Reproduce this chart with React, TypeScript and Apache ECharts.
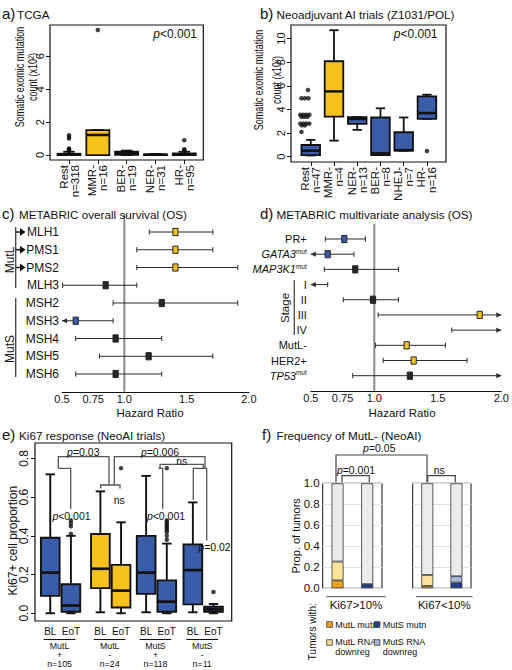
import React, { useEffect, useRef } from 'react';
import * as echarts from 'echarts';

const FONT = '"Liberation Sans", Arial, Helvetica, sans-serif';
const YEL = '#F6C21D';
const BLU = '#3A5CA9';
const BLK = '#262626';
const INK = '#111111';

// ---------- a) TCGA ----------
const aCategories = ['Rest', 'MMR-', 'BER-', 'NER-', 'HR-'];
const aCounts = [318, 16, 19, 31, 95];
const aLow = [0, 0, 0, 0, 0];
const aQ1 = [0, 0, 0.02, 0, 0];
const aMedian = [0.03, 1.22, 0.12, 0.02, 0.05];
const aQ3 = [0.08, 1.52, 0.2, 0.04, 0.1];
const aHigh = [0.2, 1.52, 0.27, 0.07, 0.2];
const aFill = [BLU, YEL, BLU, BLU, BLU];
const aOutliers = [[1, 1.2], [1, 1.1], [1, 1.0], [1, 0.4], [1, 0.35], [1, 0.3], [1, 0.25], [2, 7.6], [5, 0.9], [5, 0.35], [5, 0.3], [5, 0.25]];
const aYTicks = [0, 2, 4, 6];

// ---------- b) Neoadjuvant AI trials ----------
const bCategories = ['Rest', 'MMR-', 'NER-', 'BER-', 'NHEJ-', 'HR-'];
const bCounts = [47, 4, 13, 8, 7, 16];
const bLow = [0.1, 1.36, 2.27, 0.14, 0.51, 3.2];
const bQ1 = [0.14, 3.4, 2.78, 0.14, 0.51, 3.2];
const bMedian = [0.51, 5.53, 3.2, 0.28, 0.55, 3.69];
const bQ3 = [0.99, 8.08, 3.35, 3.32, 2.07, 5.1];
const bHigh = [1.42, 10.71, 3.35, 4.1, 3.32, 5.25];
const bFill = [BLU, YEL, BLU, BLU, BLU, BLU];
// [category, value, horizontal spread of the dot]
const bOutliers = [
  [1, 5.65, -0.12],
  [1, 4.95, -0.4], [1, 4.95, -0.25], [1, 4.95, -0.1],
  [1, 3.55, -0.45], [1, 3.55, -0.32], [1, 3.55, -0.19], [1, 3.55, -0.06],
  [1, 3.38, -0.4], [1, 3.38, -0.27], [1, 3.38, -0.14],
  [1, 2.8, -0.45], [1, 2.8, -0.32], [1, 2.8, -0.19], [1, 2.8, -0.06],
  [1, 2.65, -0.38], [1, 2.65, -0.25],
  [1, 2.1, -0.4],
  [6, 0.48, 0],
];
const bYTicks = [0, 2, 4, 6, 8, 10];

// ---------- c) METABRIC overall survival ----------
const cGenes = ['MLH1', 'PMS1', 'PMS2', 'MLH3', 'MSH2', 'MSH3', 'MSH4', 'MSH5', 'MSH6'];
const cHR = [1.41, 1.41, 1.41, 0.85, 1.3, 0.61, 0.93, 1.195, 0.93];
const cLow = [1.2, 1.1, 1.1, 0.505, 0.91, 0.5, 0.61, 0.8, 0.61];
const cHigh = [1.71, 1.71, 1.91, 1.1, 1.91, 0.91, 1.3, 1.71, 1.3];
const cLowArrow = [0, 0, 0, 0, 0, 1, 0, 0, 0];
const cHighArrow = [0, 0, 0, 0, 0, 0, 0, 0, 0];
const cColor = [YEL, YEL, YEL, BLK, BLK, BLU, BLK, BLK, BLK];
const hrTicks = [0.5, 0.75, 1.0, 1.5, 2.0];
const hrTickLabels = ['0.5', '0.75', '1.0', '1.5', '2.0'];

// ---------- d) METABRIC multivariate ----------
const dVars = ['PR+', 'GATA3', 'MAP3K1', 'I', 'II', 'III', 'IV', 'MutL-', 'HER2+', 'TP53'];
const dMutSuffix = [0, 1, 1, 0, 0, 0, 0, 0, 0, 1];
const dHR: (number | null)[] = [0.764, 0.633, 0.85, null, 0.99, 1.83, null, 1.255, 1.31, 1.28];
const dLow = [0.614, 0.5, 0.606, 0.5, 0.756, 1.03, 1.61, 1.01, 1.07, 0.83];
const dHigh = [0.93, 0.84, 1.19, 0.633, 1.19, 2.0, 2.0, 1.56, 1.73, 2.0];
const dLowArrow = [0, 1, 0, 1, 0, 0, 0, 0, 0, 0];
const dHighArrow = [0, 0, 0, 0, 0, 1, 1, 0, 0, 1];
const dColor = [BLU, BLU, BLK, BLK, BLK, YEL, BLK, YEL, YEL, BLK];

// ---------- e) Ki67 response ----------
const eGroupNames = ['MutL', 'MutL', 'MutS', 'MutS'];
const eGroupSigns = ['+', '-', '+', '-'];
const eGroupN = [105, 24, 118, 11];
const eTimepoints = ['BL', 'EoT'];
const eLow = [0.0, 0.0, 0.005, 0.0, 0.005, 0.0, 0.005, 0.0];
const eQ1 = [0.09, 0.008, 0.13, 0.03, 0.1, 0.008, 0.046, 0.008];
const eMedian = [0.21, 0.04, 0.23, 0.117, 0.21, 0.06, 0.223, 0.02];
const eQ3 = [0.39, 0.15, 0.41, 0.25, 0.4, 0.17, 0.356, 0.034];
const eHigh = [0.718, 0.4, 0.63, 0.47, 0.71, 0.36, 0.573, 0.048];
const eFill = [BLU, BLU, YEL, YEL, BLU, BLU, BLU, BLU];
const eOutliers = [[1, 0.48], [1, 0.465], [1, 0.45], [1, 0.41], [3, 0.75], [5, 0.75], [5, 0.48], [5, 0.47], [5, 0.46], [5, 0.45], [5, 0.44], [5, 0.43], [5, 0.42], [5, 0.4], [5, 0.38], [7, 0.11]];
const eYTicks = [0, 0.2, 0.4, 0.6, 0.8];

// ---------- f) Frequency of MutL- ----------
const fGroups = ['Ki67>10%', 'Ki67<10%'];
const fBars = ['MutL', 'MutS'];
const fMutLMutation = [0.075, 0.022];
const fMutLRnaDown = [0.18, 0.105];
const fMutSMutation = [0.04, 0.055];
const fMutSRnaDown = [0, 0.06];
const fColors = { mutLMut: '#EDA61C', mutLRna: '#FBE29A', mutSMut: '#223F8E', mutSRna: '#A9B8DD', other: '#EBEBEB' };

// ---------- layout ----------
const E_LEFT = 35, E_WIDTH = 196.7, E_XMAX = 20;
const E_GROUP_X = [1.55, 6.65, 11.3, 16.05];
const E_PAIR_DX = 2.1;
const E_X = E_GROUP_X.flatMap((g) => [g, g + E_PAIR_DX]);
const ePx = (v: number) => E_LEFT + (v / E_XMAX) * E_WIDTH;
const C_TOP = 214.25, C_ROW = 17.75;
const D_TOP = 223.8, D_ROW = 15.19;

function boxRender(boxW: number, fills: string[], lw: number) {
  return (params: any, api: any) => {
    const i = params.dataIndex;
    const x = api.value(0);
    const lo = api.coord([x, api.value(1)]);
    const q1 = api.coord([x, api.value(2)]);
    const md = api.coord([x, api.value(3)]);
    const q3 = api.coord([x, api.value(4)]);
    const hi = api.coord([x, api.value(5)]);
    const w = api.size([boxW, 0])[0];
    const cw = w * 0.5;
    const cx = lo[0];
    const st = { stroke: INK, lineWidth: lw };
    return {
      type: 'group',
      children: [
        { type: 'line', shape: { x1: cx, y1: lo[1], x2: cx, y2: q1[1] }, style: st },
        { type: 'line', shape: { x1: cx, y1: q3[1], x2: cx, y2: hi[1] }, style: st },
        { type: 'line', shape: { x1: cx - cw / 2, y1: lo[1], x2: cx + cw / 2, y2: lo[1] }, style: st },
        { type: 'line', shape: { x1: cx - cw / 2, y1: hi[1], x2: cx + cw / 2, y2: hi[1] }, style: st },
        { type: 'rect', shape: { x: cx - w / 2, y: q3[1], width: w, height: Math.max(q1[1] - q3[1], 0.5) }, style: { fill: fills[i], stroke: INK, lineWidth: lw } },
        { type: 'line', shape: { x1: cx - w / 2, y1: md[1], x2: cx + w / 2, y2: md[1] }, style: { stroke: INK, lineWidth: lw * 1.4 } },
      ],
    };
  };
}

function forestRender(colors: string[]) {
  return (params: any, api: any) => {
    const i = params.dataIndex;
    const row = api.value(1);
    const lo = api.coord([api.value(2), row]);
    const hi = api.coord([api.value(3), row]);
    const la = api.value(4) === 1;
    const ha = api.value(5) === 1;
    const hasC = api.value(6) === 1;
    const y = lo[1];
    const st = { stroke: '#2a2a2a', lineWidth: 1 };
    const end = (x: number, arrow: boolean, dir: number) =>
      arrow
        ? { type: 'polygon', shape: { points: [[x, y], [x - dir * 5, y - 2.6], [x - dir * 5, y + 2.6]] }, style: { fill: '#2a2a2a' } }
        : { type: 'line', shape: { x1: x, y1: y - 2.6, x2: x, y2: y + 2.6 }, style: st };
    const ch: any[] = [
      { type: 'line', shape: { x1: lo[0], y1: y, x2: hi[0], y2: y }, style: st },
      end(lo[0], la, -1),
      end(hi[0], ha, 1),
    ];
    if (hasC) {
      const c = api.coord([api.value(0), row]);
      ch.push({ type: 'rect', shape: { x: c[0] - 2.6, y: y - 3.6, width: 5.2, height: 7.2 }, style: { fill: colors[i], stroke: '#222', lineWidth: 1 } });
    }
    return { type: 'group', children: ch };
  };
}

const txt = (text: string, x: number, y: number, o: any = {}) => ({
  type: 'text', x, y, rotation: o.rot || 0, scaleX: o.sx || 1, silent: true, z: 100,
  style: {
    text, fontSize: o.fs || 11, fontFamily: FONT, fontStyle: o.it ? 'italic' : 'normal',
    fill: o.fill || INK, align: o.align || 'center', verticalAlign: o.va || 'middle',
    textAlign: o.align || 'center', textVerticalAlign: o.va || 'middle',
    ...(o.lh ? { lineHeight: o.lh } : {}),
    ...(o.rich ? { rich: o.rich } : {}),
  },
});
const pl = (pts: number[][], o: any = {}) => ({
  type: 'polyline', silent: true, z: 100, shape: { points: pts },
  style: { stroke: o.stroke || '#555', lineWidth: o.lw || 1.2, fill: null },
});
const richP = (fs: number) => ({ i: { fontStyle: 'italic', fontSize: fs, fontFamily: FONT, fill: INK, color: INK } });
const pTxt = (s: string, x: number, y: number, fs: number, align = 'center') => txt('{i|p}' + s, x, y, { fs, align, rich: richP(fs) });
const R90 = Math.PI / 2;

function buildOption() {
  const baseAxisLabel = { color: INK, fontFamily: FONT };
  const noLine = { show: false, onZero: false };

  const graphic: any[] = [];
  // titles
  const titles: [string, string, number, number, number][] = [
    ['a)', 'TCGA', 2, 13.5, 17],
    ['b)', 'Neoadjuvant AI trials (Z1031/POL)', 260, 13.5, 276.5],
    ['c)', 'METABRIC overall survival (OS)', 2, 213, 19],
    ['d)', 'METABRIC multivariate analysis (OS)', 260, 213, 276.5],
    ['e)', 'Ki67 response (NeoAI trials)', 2, 434.5, 19],
    ['f)', 'Frequency of MutL- (NeoAI)', 262, 434.5, 276.5],
  ];
  titles.forEach(([l, t, x, y, tx]) => {
    graphic.push(txt(l, x, y, { fs: 15, align: 'left' }));
    graphic.push(txt(t, tx, y + 1, { fs: 11.7, align: 'left' }));
  });
  // a/b axis names and p values
  graphic.push(txt('Somatic exomic mutation', 19.5, 77, { rot: R90, fs: 12, sx: 0.75 }));
  graphic.push(txt('count (x10²)', 32.5, 77, { rot: R90, fs: 12, sx: 0.75 }));
  graphic.push(txt('Somatic exomic mutation', 258, 80, { rot: R90, fs: 12, sx: 0.75 }));
  graphic.push(txt('count (x10²)', 276, 80, { rot: R90, fs: 12, sx: 0.75 }));
  graphic.push(pTxt('<0.001', 197, 34, 12, 'right'));
  graphic.push(pTxt('<0.001', 437.5, 34, 12, 'right'));
  // c brackets
  graphic.push(pl([[15.7, 227], [15.7, 288]], { stroke: '#444', lw: 1.3 }));
  graphic.push(pl([[15.7, 298], [15.7, 377]], { stroke: '#444', lw: 1.3 }));
  graphic.push(txt('MutL', 10, 260, { rot: R90, fs: 12 }));
  graphic.push(txt('MutS', 10, 349, { rot: R90, fs: 12 }));
  [1, 2, 3].forEach((k) => {
    const y = C_TOP + k * C_ROW;
    graphic.push(pl([[15.7, y], [21, y]], { stroke: '#111', lw: 1.4 }));
    graphic.push({ type: 'polygon', silent: true, z: 100, shape: { points: [[20, y - 4], [25.5, y], [20, y + 4]] }, style: { fill: '#111' } });
  });
  graphic.push(txt('Hazard Ratio', 150, 413, { fs: 11.5 }));
  graphic.push(txt('Hazard Ratio', 402, 413, { fs: 11.5 }));
  // d stage bracket
  graphic.push(txt('Stage', 285, 308, { rot: R90, fs: 11.5 }));
  graphic.push(pl([[294.3, 280], [294.3, 335]], { stroke: '#555', lw: 1.4 }));

  // e annotations
  graphic.push(txt('Ki67+ cell proportion', 13, 540.7, { rot: R90, fs: 12 }));
  const ES = { stroke: '#555', lw: 1.3 };
  graphic.push(pl([[58.3, 468.3], [58.3, 456.7], [109, 456.7], [109, 485]], ES));
  graphic.push(pl([[58.3, 468.3], [70.7, 468.3], [70.7, 509]], ES));
  graphic.push(pl([[100.7, 488.5], [100.7, 485], [120, 485], [120, 488.5]], ES));
  graphic.push(pl([[114.3, 485], [114.3, 456.7], [205, 456.7], [205, 468.3]], ES));
  graphic.push(pl([[160, 468.3], [160, 464.3], [203.3, 464.3], [203.3, 468.3]], ES));
  graphic.push(pl([[158.3, 468.3], [162.7, 468.3], [162.7, 509]], ES));
  graphic.push(pl([[193.3, 500], [193.3, 468.3], [206.7, 468.3], [206.7, 540.5]], ES));
  graphic.push(pTxt('=0.03', 83.3, 451.5, 10.5));
  graphic.push(pTxt('=0.006', 160, 451.5, 10.5));
  graphic.push(txt('ns', 181.7, 461, { fs: 10.5 }));
  graphic.push(txt('ns', 119.3, 499.5, { fs: 10.5 }));
  graphic.push(pTxt('<0.001', 71.5, 515.5, 10.5));
  graphic.push(pTxt('<0.001', 166, 515.5, 10.5));
  graphic.push(pTxt('=0.02', 214.5, 546.5, 10.5));
  E_X.forEach((xv, i) => graphic.push(txt(eTimepoints[i % 2], ePx(xv), 631.5, { fs: 10 })));
  E_GROUP_X.forEach((g, k) => {
    const x0 = ePx(g) - 6.5, x1 = ePx(g + E_PAIR_DX) + 4.5, xm = (x0 + x1) / 2;
    graphic.push(pl([[x0, 639.5], [x1, 639.5]], { stroke: '#111', lw: 1 }));
    graphic.push(txt(eGroupNames[k], xm, 645.8, { fs: 8.8 }));
    graphic.push(txt(eGroupSigns[k], xm, 654.8, { fs: 8.8 }));
    graphic.push(txt('n=' + eGroupN[k], xm, 663.8, { fs: 8.8 }));
  });

  // f annotations
  const FS = { stroke: '#444', lw: 1.2 };
  graphic.push(pTxt('=0.05', 379.3, 448.3, 10.5));
  graphic.push(pl([[336, 482.3], [336, 455], [427, 455], [427, 482.3]], FS));
  graphic.push(pTxt('=0.001', 356, 470, 10.5));
  graphic.push(pl([[342, 482.3], [342, 475.7], [369.3, 475.7], [369.3, 482.3]], FS));
  graphic.push(txt('ns', 439.3, 469.5, { fs: 10.5 }));
  graphic.push(pl([[427.7, 482.3], [427.7, 475.7], [455.3, 475.7], [455.3, 482.3]], FS));
  graphic.push(pl([[326, 596.7], [386, 596.7]], { stroke: '#555', lw: 1 }));
  graphic.push(pl([[416, 596.7], [472.7, 596.7]], { stroke: '#555', lw: 1 }));
  graphic.push(txt(fGroups[0], 356, 605, { fs: 11.5 }));
  graphic.push(txt(fGroups[1], 444.3, 605, { fs: 11.5 }));
  graphic.push(txt('Prop. of tumors', 296, 535.8, { rot: R90, fs: 11 }));
  graphic.push(txt('Tumors with:', 312.7, 631.7, { rot: R90, fs: 10 }));
  const leg: [string, string, number, number][] = [
    ['MutL mutn', fColors.mutLMut, 326.7, 624.5],
    ['MutS mutn', fColors.mutSMut, 374.3, 624.5],
    ['MutL RNA\ndownreg', fColors.mutLRna, 326.7, 642.5],
    ['MutS RNA\ndownreg', fColors.mutSRna, 374.3, 642.5],
  ];
  leg.forEach(([t, c, x, y]) => {
    graphic.push({ type: 'rect', silent: true, z: 100, shape: { x, y: y - 2.8, width: 5.6, height: 5.6 }, style: { fill: c, stroke: '#333', lineWidth: 0.8 } });
    graphic.push(txt(t, x + 8.5, y + (t.includes('\n') ? 4.8 : 0), { fs: 9, align: 'left', lh: 10 }));
  });

  const boxSeries = (xi: number, xs: number[], lo: number[], q1: number[], md: number[], q3: number[], hi: number[], fills: string[], bw: number, lw: number) => ({
    type: 'custom', xAxisIndex: xi, yAxisIndex: xi, z: 3, clip: false,
    renderItem: boxRender(bw, fills, lw),
    encode: { x: 0, y: [1, 2, 3, 4, 5] },
    data: xs.map((x, i) => [x, lo[i], q1[i], md[i], q3[i], hi[i]]),
  });
  const dots = (xi: number, data: number[][]) => ({
    type: 'scatter', xAxisIndex: xi, yAxisIndex: xi, z: 4, symbolSize: 4.5, silent: true,
    itemStyle: { color: INK }, data,
  });
  const refLine = (xi: number, ymax: number) => ({
    type: 'line', xAxisIndex: xi, yAxisIndex: xi, z: 1, symbol: 'none', silent: true,
    lineStyle: { color: '#8a8a8a', width: 2 }, data: [[1, 0], [1, ymax]],
  });
  const forest = (xi: number, hr: (number | null)[], lo: number[], hi: number[], la: number[], ha: number[], colors: string[]) => ({
    type: 'custom', xAxisIndex: xi, yAxisIndex: xi, z: 3, clip: false,
    renderItem: forestRender(colors),
    encode: { x: [0, 2, 3], y: 1 },
    data: lo.map((l, i) => [hr[i] == null ? l : hr[i], i + 1, l, hi[i], la[i], ha[i], hr[i] == null ? 0 : 1]),
  });
  const fBar = (xi: number, stack: string, name: string, color: string, data: (number | null)[]) => ({
    type: 'bar', name, xAxisIndex: xi, yAxisIndex: xi, stack, barWidth: 12, silent: true,
    itemStyle: { color, borderColor: '#333', borderWidth: 0.8 }, data,
  });

  const series: any[] = [
    boxSeries(0, aCategories.map((_, i) => i + 1), aLow, aQ1, aMedian, aQ3, aHigh, aFill, 0.8, 1.8),
    dots(0, aOutliers.map(([c, v]) => [c, v])),
    boxSeries(1, bCategories.map((_, i) => i + 1), bLow, bQ1, bMedian, bQ3, bHigh, bFill, 0.8, 1.8),
    dots(1, bOutliers.map(([c, v, j]) => [c + j, v])),
    refLine(2, 10),
    forest(2, cHR, cLow, cHigh, cLowArrow, cHighArrow, cColor),
    refLine(3, 11),
    forest(3, dHR, dLow, dHigh, dLowArrow, dHighArrow, dColor),
    boxSeries(4, E_X, eLow, eQ1, eMedian, eQ3, eHigh, eFill, 1.9, 1.9),
    dots(4, eOutliers.map(([b, v]) => [E_X[b], v])),
  ];
  [0, 1].forEach((g) => {
    const xi = 5 + g;
    const st = 'f' + g;
    const other = [1 - fMutLMutation[g] - fMutLRnaDown[g], 1 - fMutSMutation[g] - fMutSRnaDown[g]];
    series.push(fBar(xi, st, 'MutL mutn', fColors.mutLMut, [fMutLMutation[g], null]));
    series.push(fBar(xi, st, 'MutL RNA downreg', fColors.mutLRna, [fMutLRnaDown[g], null]));
    series.push(fBar(xi, st, 'MutS mutn', fColors.mutSMut, [null, fMutSMutation[g]]));
    series.push(fBar(xi, st, 'MutS RNA downreg', fColors.mutSRna, [null, fMutSRnaDown[g] || null]));
    series.push(fBar(xi, st, 'Other', fColors.other, other));
  });

  const frame = { show: true, borderColor: INK, borderWidth: 1.2, backgroundColor: 'transparent' };
  const catLabelAxis = (gi: number, min: number, max: number, cats: string[], counts: number[]) => ({
    type: 'value', gridIndex: gi, min, max,
    axisLine: noLine, splitLine: { show: false },
    axisTick: { show: true, length: 4, customValues: cats.map((_, i) => i + 1), lineStyle: { color: INK } },
    axisLabel: {
      ...baseAxisLabel, customValues: cats.map((_, i) => i + 1), rotate: 90, fontSize: 11.5, lineHeight: 11, margin: 5,
      formatter: (v: number) => { const i = Math.round(v) - 1; return cats[i] + '\nn=' + counts[i]; },
    },
  });
  const valueY = (gi: number, min: number, max: number, ticks: number[], fs: number, fmt: (v: number) => string) => ({
    type: 'value', gridIndex: gi, min, max,
    axisLine: noLine, splitLine: { show: false },
    axisTick: { show: true, length: 4, customValues: ticks, lineStyle: { color: INK } },
    axisLabel: { ...baseAxisLabel, customValues: ticks, rotate: 90, fontSize: fs, margin: 5, formatter: fmt },
  });
  const hrX = (gi: number) => ({
    type: 'value', gridIndex: gi, min: 0.5, max: 2.0,
    axisLine: { show: true, onZero: false, lineStyle: { color: INK, width: 1 } },
    splitLine: { show: false },
    axisTick: { show: false },
    axisLabel: { ...baseAxisLabel, customValues: hrTicks, fontSize: 11, margin: 2, formatter: (v: number) => hrTickLabels[hrTicks.findIndex((t) => Math.abs(t - v) < 1e-6)] ?? '' },
  });
  const dRich = {
    it: { fontStyle: 'italic', fontSize: 11, fontFamily: FONT, color: INK },
    n: { fontSize: 11, fontFamily: FONT, color: INK },
    sup: { fontSize: 6.5, fontFamily: FONT, color: INK, padding: [0, 0, 6, 0] },
  };

  return {
    animation: false,
    textStyle: { fontFamily: FONT },
    grid: [
      { left: 50, top: 25, width: 153.3, height: 135, ...frame },
      { left: 291, top: 25, width: 155, height: 137, ...frame },
      { left: 62, top: C_TOP, width: 187, height: C_ROW * 10, show: false },
      { left: 310.8, top: D_TOP, width: 190.5, height: D_ROW * 11, show: false },
      { left: E_LEFT, top: 443, width: E_WIDTH, height: 178, ...frame },
      { left: 322.7, top: 483.3, width: 59.3, height: 105, ...frame, borderWidth: 1 },
      { left: 412.7, top: 483.3, width: 58.3, height: 105, ...frame, borderWidth: 1 },
    ],
    xAxis: [
      catLabelAxis(0, 0.34, 5.66, aCategories, aCounts),
      catLabelAxis(1, 0.15, 6.82, bCategories, bCounts),
      hrX(2),
      hrX(3),
      { type: 'value', gridIndex: 4, min: 0, max: E_XMAX, show: false },
      { type: 'category', gridIndex: 5, data: fBars, axisLine: noLine, axisTick: { show: false }, axisLabel: { show: false } },
      { type: 'category', gridIndex: 6, data: fBars, axisLine: noLine, axisTick: { show: false }, axisLabel: { show: false } },
    ],
    yAxis: [
      valueY(0, -0.3, 7.9, aYTicks, 11, (v) => String(Math.round(v))),
      valueY(1, -0.45, 11.15, bYTicks, 11, (v) => String(Math.round(v))),
      {
        type: 'value', gridIndex: 2, min: 0, max: 10, inverse: true,
        axisLine: noLine, axisTick: { show: false }, splitLine: { show: false },
        axisLabel: { ...baseAxisLabel, customValues: cGenes.map((_, i) => i + 1), fontSize: 12, margin: 3, formatter: (v: number) => cGenes[Math.round(v) - 1] ?? '' },
      },
      {
        type: 'value', gridIndex: 3, min: 0, max: 11, inverse: true,
        axisLine: noLine, axisTick: { show: false }, splitLine: { show: false },
        axisLabel: {
          ...baseAxisLabel, customValues: dVars.map((_, i) => i + 1), fontSize: 11, margin: 4, rich: dRich,
          formatter: (v: number) => {
            const i = Math.round(v) - 1;
            if (i < 0 || i >= dVars.length) return '';
            return dMutSuffix[i] ? `{it|${dVars[i]}}{sup|mut}` : `{n|${dVars[i]}}`;
          },
        },
      },
      valueY(4, -0.04, 0.88, eYTicks, 12, (v) => v.toFixed(1)),
      {
        type: 'value', gridIndex: 5, min: 0, max: 1, interval: 0.2,
        axisLine: noLine, axisTick: { show: false },
        splitLine: { show: true, lineStyle: { color: '#e3e3e3', width: 1 } },
        axisLabel: { ...baseAxisLabel, fontSize: 11.5, margin: 3, formatter: (v: number) => v.toFixed(1) },
      },
      {
        type: 'value', gridIndex: 6, min: 0, max: 1, interval: 0.2,
        axisLine: noLine, axisTick: { show: false }, axisLabel: { show: false },
        splitLine: { show: true, lineStyle: { color: '#e3e3e3', width: 1 } },
      },
    ],
    series,
    graphic,
  };
}

export default function App() {
  const ref = useRef<HTMLDivElement>(null);
  useEffect(() => {
    if (!ref.current) return;
    const chart = echarts.init(ref.current, undefined, { renderer: 'svg', width: 512, height: 670 });
    chart.setOption(buildOption() as any);
    return () => chart.dispose();
  }, []);
  return <div ref={ref} style={{ position: 'absolute', left: 0, top: 0, width: 512, height: 670, background: '#fff' }} />;
}
